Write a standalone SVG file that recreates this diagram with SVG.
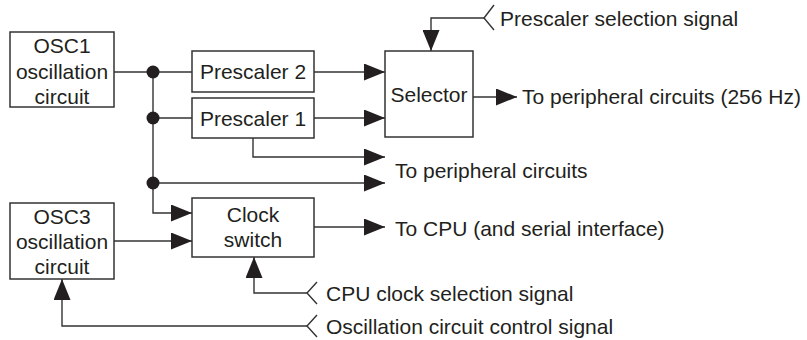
<svg xmlns="http://www.w3.org/2000/svg" width="807" height="340" viewBox="0 0 807 340">
<style>
.box{fill:#fff;stroke:#333;stroke-width:1.5}
.ln{fill:none;stroke:#333;stroke-width:1.4}
.ar{fill:none;stroke:#333;stroke-width:1.4;marker-end:url(#ah)}
.dot{fill:#231f20}
text{font-family:"Liberation Sans",Arial,sans-serif;font-size:21px;fill:#231f20}
.c{text-anchor:middle}
</style>
<defs>
<marker id="ah" markerUnits="userSpaceOnUse" markerWidth="21" markerHeight="17" refX="21" refY="8.5" orient="auto" viewBox="0 0 21 17">
<path d="M0,0 L21,8.5 L0,17 z" fill="#231f20"/>
</marker>
</defs>
<rect width="807" height="340" fill="#fff"/>
<g id="connectors">
<path class="ln" d="M114,72 H192"/>
<path class="ln" d="M153,118 H192"/>
<path class="ar" d="M153,72 V213 H192"/>
<path class="ar" d="M314,72 H385"/>
<path class="ar" d="M314,118 H385"/>
<path class="ar" d="M253,138 V157 H385"/>
<path class="ar" d="M153,183 H385"/>
<path class="ar" d="M473,97 H517"/>
<path class="ar" d="M114,241 H192"/>
<path class="ar" d="M314,227 H385"/>
<path class="ar" d="M484,18 H431 V51"/>
<path class="ln" d="M494,5 L484,18 L494,30"/>
<path class="ar" d="M307,293 H254 V257"/>
<path class="ln" d="M317,282 L307,293 L317,304"/>
<path class="ar" d="M307,326 H62 V279"/>
<path class="ln" d="M317,315 L307,326 L317,337"/>
<circle class="dot" cx="153" cy="72" r="6.5"/>
<circle class="dot" cx="153" cy="118" r="6.5"/>
<circle class="dot" cx="153" cy="183" r="6.5"/>
</g>
<g id="osc1">
<rect class="box" x="10" y="32" width="104" height="75"/>
<text class="c" x="62" y="52.5">OSC1</text>
<text class="c" x="62" y="78.5">oscillation</text>
<text class="c" x="62" y="103.5">circuit</text>
</g>
<g id="prescaler2">
<rect class="box" x="192" y="51" width="122" height="41"/>
<text class="c" x="253" y="79">Prescaler 2</text>
</g>
<g id="prescaler1">
<rect class="box" x="192" y="98" width="122" height="40"/>
<text class="c" x="253" y="125.5">Prescaler 1</text>
</g>
<g id="selector">
<rect class="box" x="385" y="51" width="88" height="86"/>
<text class="c" x="429" y="101.5">Selector</text>
</g>
<g id="clockswitch">
<rect class="box" x="192" y="198" width="122" height="59"/>
<text class="c" x="253" y="221.5">Clock</text>
<text class="c" x="253" y="246.5">switch</text>
</g>
<g id="osc3">
<rect class="box" x="10" y="203" width="104" height="76"/>
<text class="c" x="62" y="224">OSC3</text>
<text class="c" x="62" y="249">oscillation</text>
<text class="c" x="62" y="274">circuit</text>
</g>
<g id="labels">
<text x="500" y="25.5">Prescaler selection signal</text>
<text x="522" y="104">To peripheral circuits (256 Hz)</text>
<text x="395" y="178">To peripheral circuits</text>
<text x="395" y="235.5">To CPU (and serial interface)</text>
<text x="326" y="300.5">CPU clock selection signal</text>
<text x="326" y="334">Oscillation circuit control signal</text>
</g>
</svg>
